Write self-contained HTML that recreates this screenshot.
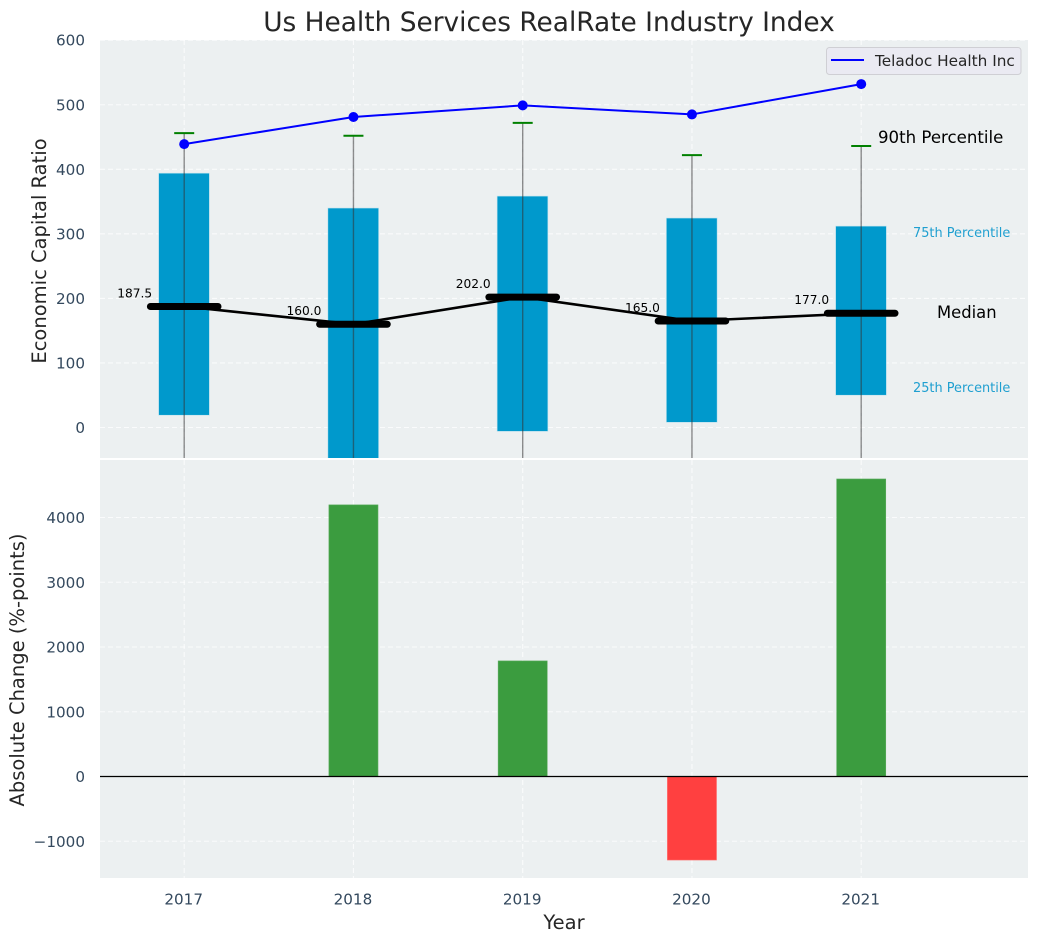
<!DOCTYPE html>
<html lang="en">
<head>
<meta charset="utf-8">
<title>Us Health Services RealRate Industry Index</title>
<style>
html,body{margin:0;padding:0;background:#fff;}
svg{display:block;font-family:"DejaVu Sans","Liberation Sans",sans-serif;}
</style>
</head>
<body>
<svg id="chart" xmlns="http://www.w3.org/2000/svg" width="1039" height="942" viewBox="0 0 1039 942">
  <defs>
    <clipPath id="clip-top"><rect x="100" y="40" width="928" height="418"/></clipPath>
    <clipPath id="clip-bottom"><rect x="100" y="460" width="928" height="418"/></clipPath>
  </defs>
  <rect x="100" y="40" width="928" height="418" fill="#ecf0f1"/>
  <rect x="100" y="460" width="928" height="418" fill="#ecf0f1"/>
  <g id="grid-top" clip-path="url(#clip-top)"></g>
  <g id="grid-bottom" clip-path="url(#clip-bottom)"></g>
  <g id="marks-top" clip-path="url(#clip-top)"></g>
  <g id="marks-bottom" clip-path="url(#clip-bottom)"></g>
  <g id="ticks"></g>
  <text x="549" y="31" text-anchor="middle" font-size="26.4" fill="#262626">Us Health Services RealRate Industry Index</text>
  <text transform="translate(46,251) rotate(-90)" text-anchor="middle" font-size="19.5" fill="#262626">Economic Capital Ratio</text>
  <text transform="translate(24,670) rotate(-90)" text-anchor="middle" font-size="19.5" fill="#262626">Absolute Change (%-points)</text>
  <text x="564" y="929" text-anchor="middle" font-size="19.5" fill="#262626">Year</text>
  <text x="878" y="143" font-size="16.6" fill="#000">90th Percentile</text>
  <text x="913" y="237" font-size="12.9" fill="#1f9fd0">75th Percentile</text>
  <text x="937" y="318" font-size="16.4" fill="#000">Median</text>
  <text x="913" y="392" font-size="12.9" fill="#1f9fd0">25th Percentile</text>
  <g>
    <rect x="826.5" y="47.5" width="194.5" height="27" rx="3" fill="#eaeaf2" stroke="#cfcfd4" stroke-width="1"/>
    <line x1="831" y1="60" x2="864" y2="60" stroke="#0000ff" stroke-width="2"/>
    <text x="875" y="66" font-size="15.3" fill="#262626">Teladoc Health Inc</text>
  </g>
</svg>
<script>
var years = [2017, 2018, 2019, 2020, 2021];
var p90 = [456, 452, 472, 422, 436];
var p75 = [394, 340, 358.5, 324.5, 312];
var medians = [187.5, 160, 202, 165, 177];
var medianLabels = ["187.5", "160.0", "202.0", "165.0", "177.0"];
var p25 = [19, -60, -6, 8, 50];
var p10 = [-120, -150, -110, -110, -100];
var company = [439, 481, 499, 485, 532];
var absChange = [null, 4195, 1785, -1290, 4595];
var topTicks = [0, 100, 200, 300, 400, 500, 600];
var bottomTicks = [-1000, 0, 1000, 2000, 3000, 4000];

var NS = 'http://www.w3.org/2000/svg';
function xS(y) { return 184.2 + (y - 2017) * 169.25; }
function yTop(v) { return 427.5 - v * 0.6455; }
function yBot(v) { return 776.5 - v * 0.06475; }
function mk(tag, attrs, parent, text) {
  var el = document.createElementNS(NS, tag);
  for (var k in attrs) { el.setAttribute(k, attrs[k]); }
  if (text !== undefined) { el.textContent = text; }
  parent.appendChild(el);
  return el;
}
var gridTop = document.getElementById('grid-top');
var gridBottom = document.getElementById('grid-bottom');
var marksTop = document.getElementById('marks-top');
var marksBottom = document.getElementById('marks-bottom');
var ticks = document.getElementById('ticks');
var dash = '5,3';
var tickColor = '#34495e';
var gridOpacity = 0.75;

topTicks.forEach(function (t) {
  var y = yTop(t);
  var g = mk('line', { x1: 100, x2: 1028, y1: y, y2: y, stroke: '#fff', 'stroke-opacity': gridOpacity, 'stroke-width': 1.1, 'stroke-dasharray': dash }, gridTop);
  
  
  var l = mk('text', { x: 85, y: y + 5.5, 'text-anchor': 'end', 'font-size': 15.2, fill: tickColor }, ticks, String(t));
  
  
});
bottomTicks.forEach(function (t) {
  var y = yBot(t);
  var g = mk('line', { x1: 100, x2: 1028, y1: y, y2: y, stroke: '#fff', 'stroke-opacity': gridOpacity, 'stroke-width': 1.1, 'stroke-dasharray': dash }, gridBottom);
  
  
  var l = mk('text', { x: 85, y: y + 5.5, 'text-anchor': 'end', 'font-size': 15.2, fill: tickColor }, ticks, String(t).replace('-', '\u2212'));
  
  
});
years.forEach(function (yr) {
  var x = xS(yr);
  var a = mk('line', { x1: x, x2: x, y1: 40, y2: 458, stroke: '#fff', 'stroke-opacity': gridOpacity, 'stroke-width': 1.1, 'stroke-dasharray': dash }, gridTop);
  
  
  var b = mk('line', { x1: x, x2: x, y1: 460, y2: 878, stroke: '#fff', 'stroke-opacity': gridOpacity, 'stroke-width': 1.1, 'stroke-dasharray': dash }, gridBottom);
  
  
  var l = mk('text', { x: x - 0.5, y: 904.5, 'text-anchor': 'middle', 'font-size': 15.2, fill: tickColor }, ticks, String(yr));
  
  
});

/* interquartile bars */
years.forEach(function (yr, i) {
  var x = xS(yr) - 0.2, bw = 0.3 * 169.25;
  var r = mk('rect', { x: x - bw / 2, y: yTop(p75[i]), width: bw, height: yTop(p25[i]) - yTop(p75[i]), fill: '#0099cc', stroke: '#bfe3ef', 'stroke-width': 0.6 }, marksTop);
  
  
});
/* whiskers and caps */
years.forEach(function (yr, i) {
  var x = xS(yr);
  var w = mk('line', { x1: x, x2: x, y1: yTop(p90[i]), y2: yTop(p10[i]), stroke: '#333', 'stroke-opacity': 0.55, 'stroke-width': 1.4 }, marksTop);
  
  
  var c = mk('line', { x1: x - 10, x2: x + 10, y1: yTop(p90[i]), y2: yTop(p90[i]), stroke: '#008000', 'stroke-width': 2 }, marksTop);
  
  
});
/* median connecting line */
var medianPts = years.map(function (yr, i) { return xS(yr) + ',' + yTop(medians[i]); }).join(' ');
var ml = mk('polyline', { points: medianPts, fill: 'none', stroke: '#000', 'stroke-width': 2.6 }, marksTop);


/* median thick bars and labels */
years.forEach(function (yr, i) {
  var x = xS(yr), y = yTop(medians[i]);
  var m = mk('line', { x1: x - 33.8, x2: x + 33.8, y1: y, y2: y, stroke: '#000', 'stroke-width': 7, 'stroke-linecap': 'round' }, marksTop);
  
  
  var t = mk('text', { x: x - 32, y: y - 9, 'text-anchor': 'end', 'font-size': 12.2, fill: '#000' }, marksTop, medianLabels[i]);
  
  
});
/* company line */
var companyPts = years.map(function (yr, i) { return xS(yr) + ',' + yTop(company[i]); }).join(' ');
var cl = mk('polyline', { points: companyPts, fill: 'none', stroke: '#0000ff', 'stroke-width': 2 }, marksTop);


years.forEach(function (yr, i) {
  var p = mk('circle', { cx: xS(yr), cy: yTop(company[i]), r: 5, fill: '#0000ff' }, marksTop);
  
  
});
/* absolute change bars */
years.forEach(function (yr, i) {
  var v = absChange[i];
  if (v === null) { return; }
  var bw = 0.29 * 169.25, top = yBot(Math.max(v, 0)), bot = yBot(Math.min(v, 0));
  var r = mk('rect', { x: xS(yr) - bw / 2, y: top, width: bw, height: bot - top, fill: v >= 0 ? '#3b9c3f' : '#ff4040', stroke: v >= 0 ? '#5cad5f' : '#ff6a6a', 'stroke-width': 0.6 }, marksBottom);
  
  
});
var zl = mk('line', { x1: 100, x2: 1028, y1: yBot(0), y2: yBot(0), stroke: '#000', 'stroke-width': 1.3 }, marksBottom);


</script>
</body>
</html>
